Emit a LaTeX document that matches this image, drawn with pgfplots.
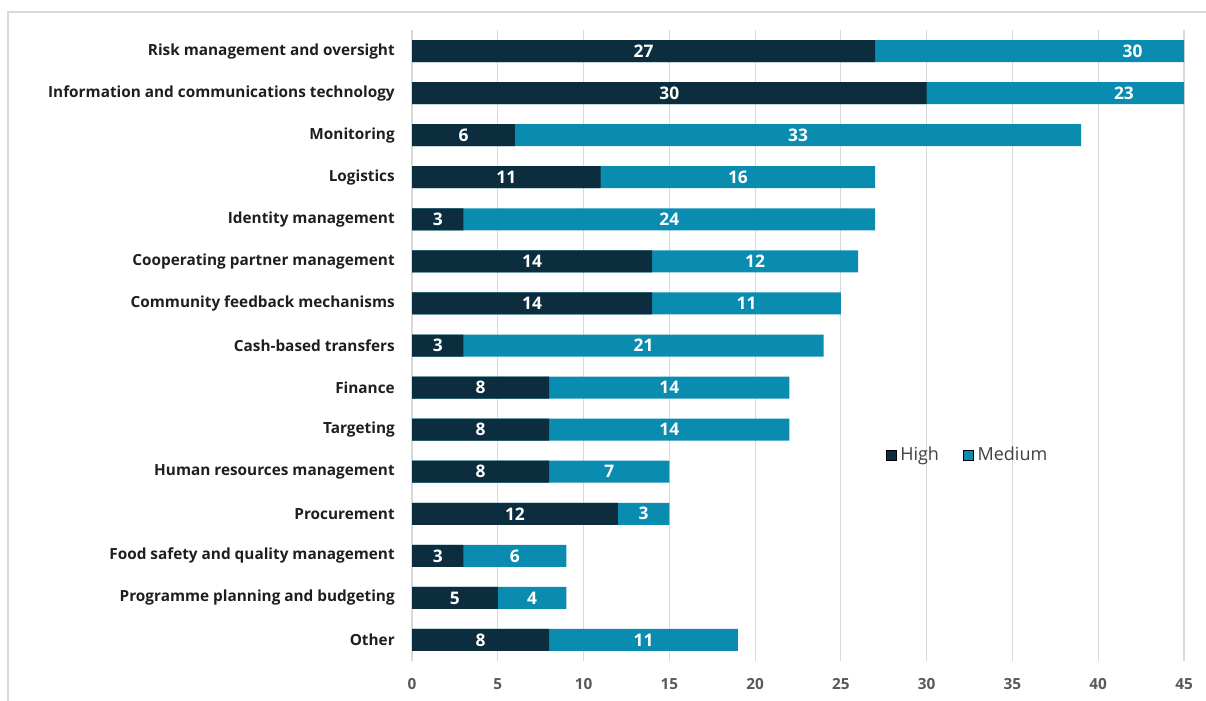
\documentclass[border=0pt]{standalone}
\usepackage{fontspec}
\setmainfont{Open Sans}
\usepackage{pgfplots}
\usepackage{pgfplotstable}
\pgfplotsset{compat=1.18}
\definecolor{cHigh}{HTML}{0B2D3E}
\definecolor{cMed}{HTML}{0A8BB0}
\definecolor{cGrid}{HTML}{D9D9D9}
\definecolor{cLab}{HTML}{1E1E1E}
\definecolor{cTick}{HTML}{595959}
\definecolor{cLeg}{HTML}{404040}
\pgfplotstableread{
idx high medium
0 27 30
1 30 23
2 6 33
3 11 16
4 3 24
5 14 12
6 14 11
7 3 21
8 8 14
9 8 14
10 8 7
11 12 3
12 3 6
13 5 4
14 8 11
}\data
\begin{document}
\begin{tikzpicture}
\path[use as bounding box] (0,0) rectangle (904.5pt,-525pt);
\draw[cGrid, line width=0.8pt] (6pt,-9pt) rectangle (910pt,-540pt);
\begin{axis}[
  at={(309pt,-22.5pt)}, anchor=north west,
  scale only axis, width=579pt, height=473.25pt,
  xmin=0, xmax=45, ymin=-0.5, ymax=14.5, y dir=reverse,
  xtick={0,5,...,45}, ytick={0,...,14},
  yticklabels={Risk management and oversight,Information and communications technology,Monitoring,Logistics,Identity management,Cooperating partner management,Community feedback mechanisms,Cash-based transfers,Finance,Targeting,Human resources management,Procurement,Food safety and quality management,Programme planning and budgeting,Other},
  axis line style={draw=none},
  major tick length=0pt,
  xmajorgrids, grid style={cGrid, line width=0.8pt},
  /pgf/number format/assume math mode=true,
  xticklabel style={font=\bfseries\fontsize{11.5}{13}\selectfont, text=cTick, anchor=base, yshift=-21.5pt},
  yticklabel style={font=\bfseries\fontsize{11.5}{13}\selectfont, text=cLab, anchor=east, inner sep=0pt, xshift=-12.75pt},
  legend style={at={(axis cs:27.6,9.6)}, anchor=west, draw=none, fill=none, inner sep=0pt,
    legend columns=2, font=\fontsize{13.5}{15}\selectfont, text=cLeg,
    nodes={inner sep=3pt},
    /tikz/every even column/.append style={column sep=15pt}},
  legend image code/.code={\fill[#1] (0pt,-3.75pt) rectangle (7.5pt,3.75pt);},
]
\addplot[xbar, bar width=16.5pt, bar shift=0pt, fill=cMed, draw=none, forget plot]
  table[x expr=\thisrow{high}+\thisrow{medium}, y=idx] {\data};
\addplot[xbar, bar width=16.5pt, bar shift=0pt, fill=cHigh, draw=none, forget plot]
  table[x=high, y=idx] {\data};
\addplot[draw=none, mark=none, forget plot, nodes near coords, point meta=explicit symbolic,
  nodes near coords align={center},
  every node near coord/.append style={anchor=center, text=white, font=\bfseries\fontsize{13}{15}\selectfont}]
  table[x expr=\thisrow{high}/2, y=idx, meta=high] {\data};
\addplot[draw=none, mark=none, forget plot, nodes near coords, point meta=explicit symbolic,
  nodes near coords align={center},
  every node near coord/.append style={anchor=center, text=white, font=\bfseries\fontsize{13}{15}\selectfont}]
  table[x expr=\thisrow{high}+\thisrow{medium}/2, y=idx, meta=medium] {\data};
\addlegendimage{fill=cHigh}
\addlegendentry{High}
\addlegendimage{fill=cMed}
\addlegendentry{Medium}
\end{axis}
\end{tikzpicture}
\end{document}
